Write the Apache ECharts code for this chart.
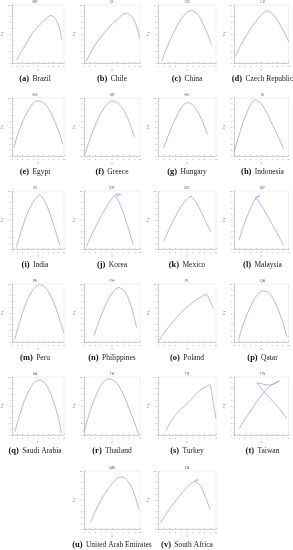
<!DOCTYPE html>
<html><head><meta charset="utf-8">
<script src="https://cdn.jsdelivr.net/npm/echarts@6/dist/echarts.min.js"></script>
<style>html,body{margin:0;padding:0;background:#fff}#c{width:293px;height:550px}</style>
</head><body><div id="c"></div>
<script>
// ---- data (normalized curve samples, x: 0-10, y: 0-10) ----
const codes = ['BR','CL','CN','CZ','EG','GR','HU','ID','IN','KR','MX','MY','PE','PH','PL','QA','SA','TH','TR','TW','UAE','ZA'];
const letters = ['a','b','c','d','e','f','g','h','i','j','k','l','m','n','o','p','q','r','s','t','u','v'];
const names = ['Brazil','Chile','China','Czech Republic','Egypt','Greece','Hungary','Indonesia','India','Korea','Mexico','Malaysia','Peru','Philippines','Poland','Qatar','Saudi Arabia','Thailand','Turkey','Taiwan','United Arab Emirates','South Africa'];
const xTicks = [0,1,2,3,4,5,6,7,8,9,10];
const yTicks = [0,1,2,3,4,5,6,7,8,9,10];

const BR = [[0.8,0.4],[1.8,2.0],[2.8,3.5],[3.8,5.0],[4.8,6.1],[5.8,7.0],[6.7,7.8],[7.5,8.2],[8.2,7.8],[8.8,6.8],[9.3,5.4],[9.6,4.0]];
const CL = [[0.4,0.3],[1.4,2.2],[2.5,3.8],[3.6,5.2],[4.8,6.5],[6.0,7.6],[7.0,8.4],[7.6,8.6],[8.4,8.2],[9.1,7.1],[9.6,5.7],[9.9,4.3]];
const CN = [[0.7,0.4],[1.5,2.6],[2.4,4.6],[3.4,6.6],[4.4,8.1],[5.5,9.0],[6.4,8.8],[7.3,7.7],[8.1,6.0],[8.7,4.6],[9.2,3.2]];
const CZ = [[0.2,1.1],[1.2,3.0],[2.3,4.8],[3.4,6.4],[4.6,7.9],[5.5,8.7],[6.1,9.0],[7.0,8.5],[8.0,7.3],[8.9,5.8],[9.5,4.8],[10,3.7]];
const EG = [[0.3,1.5],[1.2,4.0],[2.2,6.3],[3.3,8.2],[4.3,9.3],[5.0,9.5],[6.0,9.2],[7.0,8.2],[8.0,6.4],[9.0,4.2],[9.8,2.0]];
const GR = [[0.2,0.3],[1.0,2.8],[2.0,5.3],[3.0,7.4],[4.0,8.8],[5.0,9.5],[6.0,9.2],[7.0,8.1],[8.0,6.1],[9.0,3.3]];
const HU = [[1.0,1.4],[1.8,3.6],[2.7,5.8],[3.6,7.6],[4.4,8.8],[5.1,9.2],[5.9,8.9],[6.8,7.7],[7.7,5.9],[8.5,3.7]];
const ID = [[0.0,0.7],[0.8,3.2],[1.7,5.9],[2.7,8.2],[3.8,9.7],[4.8,9.2],[5.9,7.6],[7.0,5.5],[8.1,3.3],[9.1,1.2]];
const IN = [[0.8,0.3],[1.7,3.0],[2.7,5.6],[3.7,7.6],[4.6,8.8],[5.3,9.3],[6.1,8.5],[7.0,6.8],[8.0,4.2],[9.2,0.6]];
const KR = [[0.4,0.3],[1.3,2.3],[2.3,4.3],[3.3,6.1],[4.3,7.7],[5.2,9.0],[5.9,9.5],[6.6,9.4],[5.7,9.1],[6.3,8.0],[7.1,6.0],[7.9,3.6],[8.8,0.8]];
const MX = [[1.0,1.4],[1.9,3.4],[2.9,5.4],[3.9,7.2],[4.9,8.5],[5.7,9.1],[6.4,8.3],[7.2,6.9],[8.1,5.0],[9.1,2.9]];
const MY = [[0.9,1.5],[1.6,3.6],[2.4,5.6],[3.2,7.3],[3.9,8.6],[4.7,9.2],[3.8,8.8],[4.3,8.5],[5.4,6.9],[6.5,5.1],[7.6,3.2],[8.5,1.7],[9.1,0.6]];
const PE = [[0.5,0.5],[1.3,3.0],[2.2,5.6],[3.2,7.8],[4.2,9.2],[5.3,9.9],[6.3,9.5],[7.3,8.2],[8.3,6.2],[9.2,3.8],[10,1.5]];
const PH = [[1.8,1.1],[2.6,3.4],[3.5,5.6],[4.4,7.5],[5.3,8.8],[6.2,9.4],[7.0,9.0],[7.8,7.8],[8.6,5.6],[9.4,2.5]];
const PL = [[0.2,0.2],[1.0,1.5],[2.0,2.8],[3.0,4.0],[4.0,5.1],[5.0,6.0],[6.0,6.8],[7.0,7.5],[8.3,8.2],[9.0,7.0],[9.6,5.8]];
const QA = [[0.8,0.3],[1.6,2.8],[2.5,5.0],[3.5,7.0],[4.4,8.3],[5.3,8.8],[6.2,8.6],[7.1,7.6],[8.0,5.8],[8.9,3.5],[9.7,0.9]];
const SA = [[0.5,0.5],[1.3,3.0],[2.2,5.5],[3.2,7.6],[4.2,9.0],[5.2,9.5],[6.2,9.1],[7.2,7.6],[8.2,5.2],[9.0,2.6],[9.5,0.3]];
const TH = [[0.0,0.5],[0.8,3.2],[1.7,5.8],[2.7,8.0],[3.6,9.3],[4.5,9.7],[5.5,9.3],[6.5,8.0],[7.5,5.9],[8.6,3.2],[9.8,0.1]];
const TR = [[1.35,0.7],[1.9,1.8],[2.4,2.6],[3.2,3.6],[4.1,4.6],[5.0,5.4],[5.9,6.3],[6.8,7.3],[7.6,8.0],[8.3,8.3],[8.9,8.7],[9.3,7.0],[9.6,5.2],[10.0,2.8]];
const TW = [[1.0,1.2],[2.0,2.7],[3.0,4.1],[4.0,5.5],[5.0,6.8],[6.0,7.9],[7.0,8.7],[8.3,9.3],[7.3,8.8],[6.3,8.6],[5.2,8.8],[4.2,9.0],[5.2,7.8],[6.3,6.6],[7.4,5.5],[8.5,4.3],[9.7,2.8]];
const UAE = [[1.2,1.2],[2.0,3.0],[3.0,4.9],[4.0,6.5],[5.0,7.8],[5.9,8.7],[6.6,9.0],[7.4,8.7],[8.3,7.6],[9.1,5.7],[9.8,3.4]];
const ZA = [[0.4,1.0],[1.4,2.6],[2.4,4.0],[3.4,5.3],[4.4,6.5],[5.4,7.6],[6.5,8.4],[6.9,8.5],[6.5,8.2],[7.3,7.5],[8.1,5.7],[9.0,3.4]];
const curves = [BR,CL,CN,CZ,EG,GR,HU,ID,IN,KR,MX,MY,PE,PH,PL,QA,SA,TH,TR,TW,UAE,ZA];

// ---- layout ----
const colL = [6, 84, 158, 234], colR = [64, 140, 216, 291];
const rowT = [5, 98, 191, 284, 377, 471], PH_H = 58;
function cell(i){ if(i<20) return [i%4, Math.floor(i/4)]; return [i-19, 5]; }

const grids=[], xAxes=[], yAxes=[], series=[], graphics=[];
const axisGray = '#aaa', lblGray = '#888';
curves.forEach((d,i)=>{
  const [c,r] = cell(i);
  const L = colL[c], R = colR[c], T = rowT[r];
  grids.push({left:L, top:T, width:R-L, height:PH_H, show:true, borderColor:'#ddd', borderWidth:0.5});
  xAxes.push({gridIndex:i, type:'value', min:xTicks[0], max:xTicks[xTicks.length-1], interval:1,
    axisLine:{lineStyle:{color:axisGray,width:0.5}}, axisTick:{inside:true,length:1.2,lineStyle:{color:axisGray,width:0.5}},
    axisLabel:{fontSize:2.5,color:lblGray,margin:2}, splitLine:{show:false},
    name:'x', nameLocation:'middle', nameGap:5, nameTextStyle:{fontSize:3,color:lblGray}});
  yAxes.push({gridIndex:i, type:'value', min:yTicks[0], max:yTicks[yTicks.length-1], interval:1,
    axisLine:{lineStyle:{color:axisGray,width:0.5}}, axisTick:{inside:true,length:1.2,lineStyle:{color:axisGray,width:0.5}},
    axisLabel:{fontSize:2.5,color:lblGray,margin:1.5}, splitLine:{show:false},
    name:'ln y', nameLocation:'middle', nameGap:4, nameRotate:90, nameTextStyle:{fontSize:3,color:lblGray}});
  series.push({type:'line', xAxisIndex:i, yAxisIndex:i, data:d, showSymbol:false, smooth:0.25,
    lineStyle:{color:'#7f7fff', width:0.6}, silent:true, animation:false});
  const cx = (L+R)/2;
  graphics.push({type:'text', x:cx, y:T-2.5, style:{text:codes[i], fill:'#666', font:'3.5px Arial', align:'center', verticalAlign:'middle'}});
  graphics.push({type:'text', x:cx, y:T+PH_H+16, style:{
    text:'{b|('+letters[i]+')} {n|'+names[i]+'}', align:'center', verticalAlign:'middle',
    rich:{b:{font:'bold 8.5px "Liberation Serif"', fill:'#111'}, n:{font:'7.5px "Liberation Serif"', fill:'#222'}}}});
});

const chart = echarts.init(document.getElementById('c'), null, {renderer:'canvas'});
chart.setOption({animation:false, grid:grids, xAxis:xAxes, yAxis:yAxes, series:series, graphic:graphics});
</script></body></html>
